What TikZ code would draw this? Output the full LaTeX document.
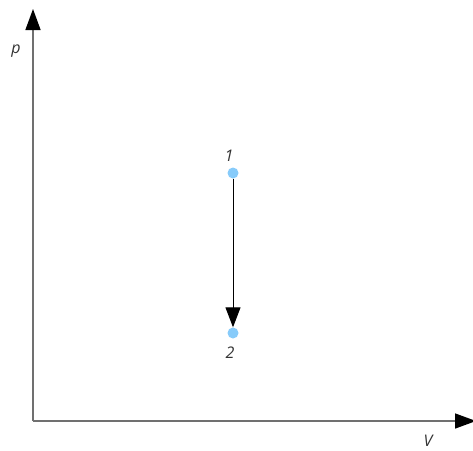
\documentclass[tikz,border=0pt]{standalone}
\usepackage{fontspec}
\setmainfont{Open Sans}
\usetikzlibrary{arrows.meta}
\definecolor{axisgray}{HTML}{707070}
\definecolor{dotblue}{HTML}{87CBFA}
\definecolor{labelgray}{HTML}{333333}
\tikzset{
  axis/.style={draw=axisgray, line width=1.5pt, -{Triangle[length=21pt,width=15pt,color=black]}},
  state/.style={circle, fill=dotblue, inner sep=0pt, minimum size=11pt},
  lbl/.style={font=\itshape\fontsize{16}{16}\selectfont, text=labelgray, inner sep=0pt}
}
\begin{document}
\begin{tikzpicture}[x=1pt, y=-1pt]
  \useasboundingbox (0,0) rectangle (473,450);
  \coordinate (O) at (33,421);
  \coordinate (ptop) at (33,9);
  \coordinate (vend) at (476,421);
  \draw[axis] (O) -- (ptop);
  \draw[axis] (O) -- (vend);
  \node[lbl] at (16,51) {p};
  \node[lbl] at (428,441) {V};
  % states
  \node[state] (s1) at (233,173) {};
  \node[state] (s2) at (233,333) {};
  \node[lbl] at (229,156) {1};
  \node[lbl] at (230,353) {2};
  \draw[line width=1pt, -{Triangle[length=20pt,width=15pt]}] (s1) -- (s2);
\end{tikzpicture}
\end{document}
